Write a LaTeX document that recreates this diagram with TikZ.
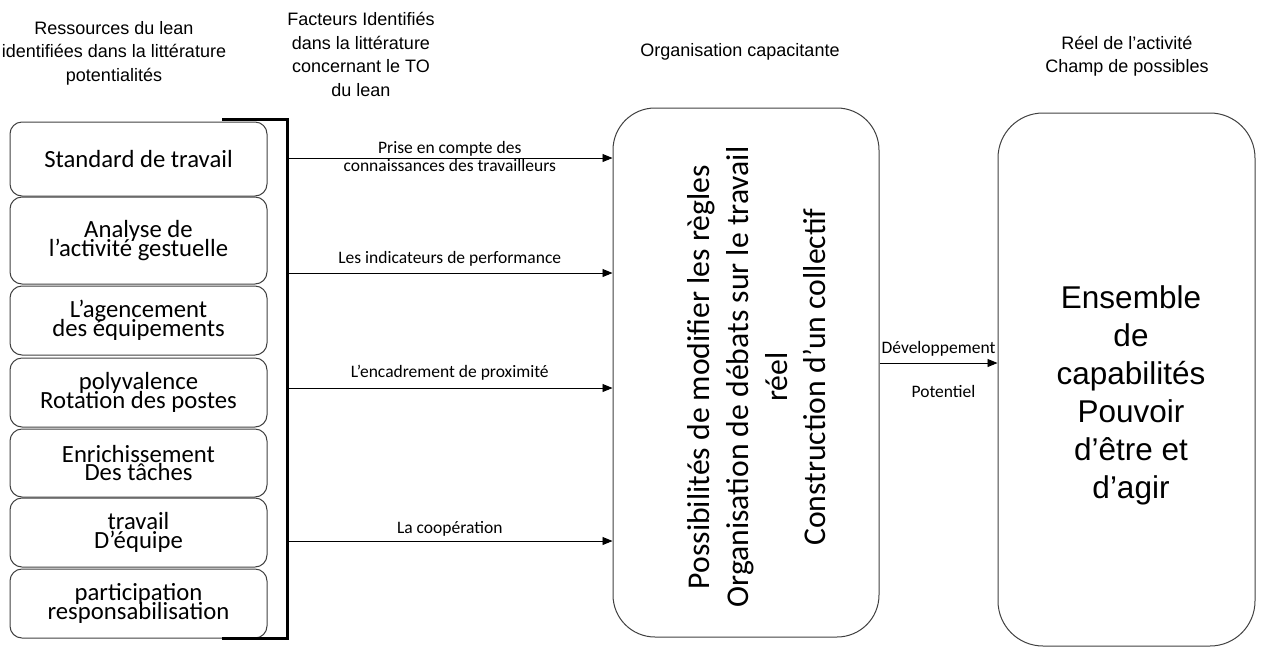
\documentclass[tikz,border=0pt]{standalone}
\usepackage{fontspec}
\setmainfont{Carlito}
\newfontfamily\arialf{Liberation Sans}
\usetikzlibrary{arrows.meta}
\lineskiplimit=-30pt

\tikzset{
	resbox/.style={draw=black!75, line width=1pt, rounded corners=12pt, minimum width=257pt, inner sep=0pt, align=center,
		font=\fontsize{24.7}{18.7}\selectfont},
	grandbox/.style={draw=black!75, line width=1pt, inner sep=0pt},
	titre/.style={align=center, font=\arialf\fontsize{18}{23.5}\selectfont},
	fleche/.style={-{Triangle[length=10pt,width=8pt]}, line width=0.9pt},
	etiq/.style={font=\fontsize{17.5}{21}\selectfont, inner sep=1pt},
}

\begin{document}
\begin{tikzpicture}[x=1pt, y=-1pt]
		\useasboundingbox (0,0) rectangle (1262,649);

		%titres
		\node[titre] (ress) at (114,53) {Ressources du lean\\identifiées dans la littérature\\potentialités};
		\node[titre] (fact) at (361,54.5) {Facteurs Identifiés\\dans la littérature\\concernant le TO\\du lean};
		\node[titre] (orgtitre) at (740,52) {Organisation capacitante};
		\node[titre] (reel) at (1127,56) {Réel de l’activité\\Champ de possibles};

		%ressources
		\foreach \n/\yc/\haut/\txt in {1/159/74/{Standard de travail},
			2/240.5/87/{Analyse de\\l’activité gestuelle},
			3/320.5/69/{L’agencement\\des équipements},
			4/392.5/69/{polyvalence\\Rotation des postes},
			5/463/68/{Enrichissement\\Des tâches},
			6/532.5/69/{travail\\D’équipe},
			7/603.5/69/{participation\\responsabilisation}}{
			\node[resbox, minimum height=\haut pt] (res\n) at (138.5,\yc) {\txt};
		}

		%accolade
		\coordinate (acc1) at (222,119);
		\coordinate (acc2) at (287,119);
		\coordinate (acc3) at (287,638);
		\coordinate (acc4) at (222,638);
		\draw[line width=3pt] (acc1) -- (acc2) -- (acc3) -- (acc4);

		%organisation capacitante
		\node[grandbox, rounded corners=42pt, minimum width=266pt, minimum height=529pt] (orga) at (746,372.5) {};
		\node[rotate=90, align=center, font=\fontsize{31.7}{38.7}\selectfont] (orgatxt) at (757,377)
			{Possibilités de modifier les règles\\Organisation de débats sur le travail\\réel\\Construction d’un collectif};

		%capabilites
		\node[grandbox, rounded corners=45pt, minimum width=257pt, minimum height=533pt] (capab) at (1126.5,379.5) {};
		\node[align=center, font=\arialf\fontsize{31.5}{38}\selectfont] (capabtxt) at (1131,395)
			{Ensemble\\de\\capabilités\\Pouvoir\\d’être et\\d’agir};

		%facteurs
		\foreach \n/\yf in {1/158, 2/273, 3/388, 4/541}
			\coordinate (f\n) at (287,\yf);
		\draw[fleche] (f1) -- (f1 -| orga.west)
			node[etiq, midway, above] {Prise en compte des}
			node[etiq, midway, below] {connaissances des travailleurs};
		\draw[fleche] (f2) -- (f2 -| orga.west) node[etiq, midway, above=5pt] {Les indicateurs de performance};
		\draw[fleche] (f3) -- (f3 -| orga.west) node[etiq, midway, above=6pt] {L’encadrement de proximité};
		\draw[fleche] (f4) -- (f4 -| orga.west) node[etiq, midway, above=3pt] {La coopération};

		%developpement
		\coordinate (dv) at (879,363);
		\draw[fleche] (orga.east |- dv) -- (capab.west |- dv)
			node[etiq, midway, above=5pt] {Développement}
			node[etiq, midway, below=21pt, xshift=5pt] {Potentiel};
\end{tikzpicture}
\end{document}
